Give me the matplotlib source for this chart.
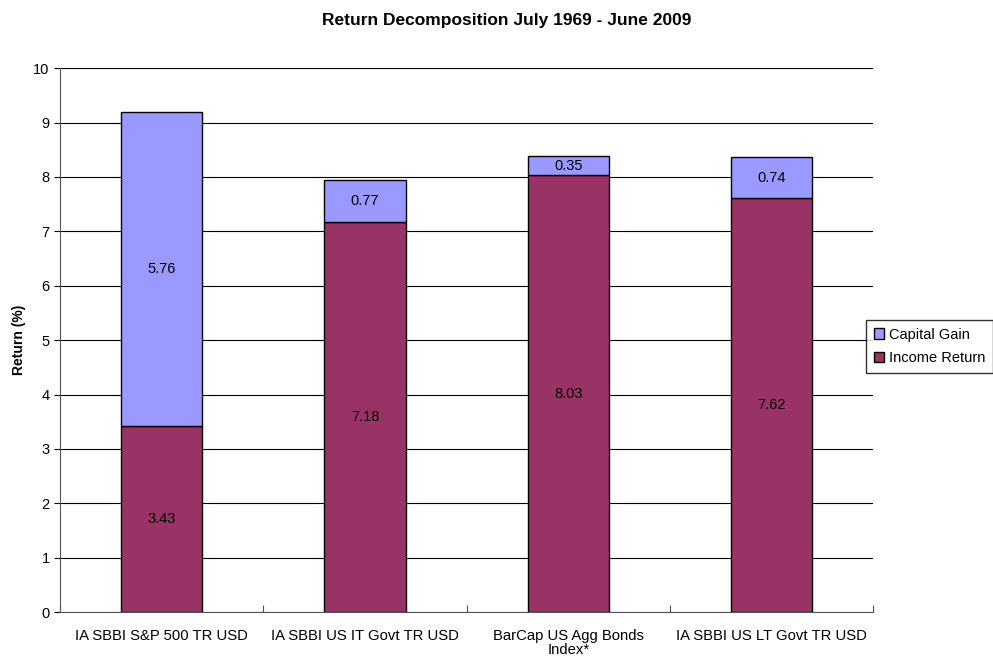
import matplotlib
matplotlib.use("Agg")
import matplotlib.pyplot as plt
import numpy as np

plt.rcParams['font.family'] = ['Liberation Sans', 'DejaVu Sans']

categories = ["IA SBBI S&P 500 TR USD", "IA SBBI US IT Govt TR USD",
              "BarCap US Agg Bonds\nIndex*", "IA SBBI US LT Govt TR USD"]
income_return = [3.43, 7.18, 8.03, 7.62]
capital_gain = [5.76, 0.77, 0.35, 0.74]

fig = plt.figure(figsize=(9.93, 6.56), dpi=100)
ax = fig.add_axes([0.0604, 0.067, 0.819, 0.829])

x = np.arange(len(categories))
w = 0.4
b1 = ax.bar(x, income_return, w, color='#993366', edgecolor='black', linewidth=1, label='Income Return', zorder=3)
b2 = ax.bar(x, capital_gain, w, bottom=income_return, color='#9999FF', edgecolor='black', linewidth=1, label='Capital Gain', zorder=3)

for i in range(len(categories)):
    ax.text(x[i], income_return[i] / 2, f"{income_return[i]:.2f}", ha='center', va='center', fontsize=10.5, zorder=4)
    ax.text(x[i], income_return[i] + capital_gain[i] / 2, f"{capital_gain[i]:.2f}", ha='center', va='center', fontsize=10.5, zorder=4)

ax.set_xlim(-0.5, len(categories) - 0.5)
ax.set_ylim(0, 10)
ax.set_yticks(range(0, 11))
ax.yaxis.grid(True, color='black', linewidth=0.8, zorder=0)
ax.set_axisbelow(True)
ax.set_xticks(np.arange(-0.5, len(categories), 1.0))
ax.set_xticklabels([])
ax.set_xticks(x, minor=True)
ax.set_xticklabels(categories, minor=True, fontsize=10.7, linespacing=1.0)
ax.tick_params(axis='x', which='minor', length=0, pad=12)
ax.tick_params(axis='x', which='major', length=5, direction='in', color='#555555')
ax.tick_params(axis='y', length=4, direction='out', labelsize=10.5)
for s in ['top', 'right']:
    ax.spines[s].set_visible(False)
ax.spines['left'].set_color('#555555')
ax.spines['bottom'].set_color('#555555')
ax.set_ylabel('Return (%)', fontsize=10, fontweight='bold', labelpad=5)

fig.text(0.51, 0.969, 'Return Decomposition July 1969 - June 2009', fontsize=12.5,
         fontweight='bold', ha='center', va='center')

handles = [b2, b1]
leg = fig.legend(handles, ['Capital Gain', 'Income Return'], loc='center left',
                 bbox_to_anchor=(0.872, 0.472), fontsize=10.5, frameon=True, fancybox=False,
                 edgecolor='black', handlelength=0.7, handleheight=0.7, handletextpad=0.3,
                 borderpad=0.55, labelspacing=0.65, borderaxespad=0)
leg.get_frame().set_linewidth(1)

fig.savefig('out.png', dpi=100)
